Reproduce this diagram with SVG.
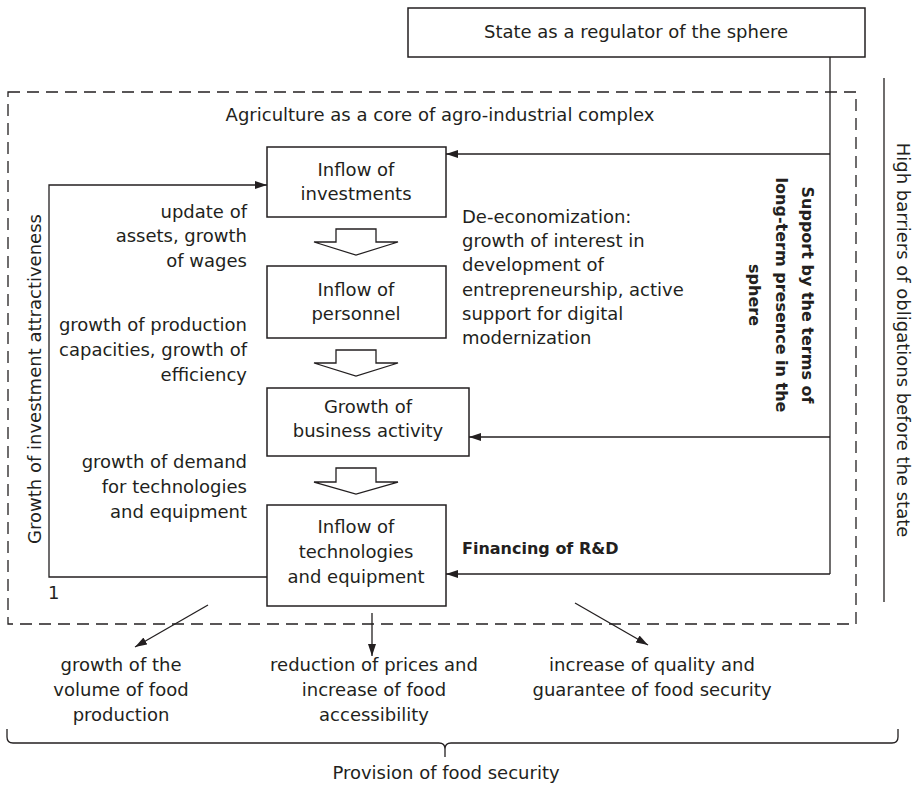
<svg xmlns="http://www.w3.org/2000/svg" width="914" height="787" viewBox="0 0 914 787">
  <style>
    text { font-family: "DejaVu Sans", "Noto Sans", sans-serif; font-size: 18px; fill: #231f20; }
    .b { font-weight: bold; font-size: 16px; }
    .m { text-anchor: middle; }
    .e { text-anchor: end; }
    .box { fill: #fff; stroke: #231f20; stroke-width: 1.5; }
    .ln { fill: none; stroke: #231f20; stroke-width: 1.3; }
    .dash { fill: none; stroke: #231f20; stroke-width: 1.3; stroke-dasharray: 12 7; }
    .hollow { fill: #fff; stroke: #231f20; stroke-width: 1.3; stroke-linejoin: miter; }
  </style>
  <defs>
    <marker id="arr" markerWidth="12" markerHeight="8" refX="12" refY="4" orient="auto" markerUnits="userSpaceOnUse">
      <path d="M0,0 L12,4 L0,8 z" fill="#231f20"/>
    </marker>
  </defs>

  <rect width="914" height="787" fill="#fff"/>

  <!-- sphere boundary -->
  <rect class="dash" x="8" y="92" width="848" height="532"/>
  <text class="m" x="440" y="121">Agriculture as a core of agro-industrial complex</text>

  <!-- outer obligation barrier -->
  <line class="ln" x1="884" y1="78" x2="884" y2="602"/>
  <text class="m" transform="translate(897,340) rotate(90)">High barriers of obligations before the state</text>

  <g id="state">
    <rect class="box" x="408" y="8" width="457" height="49"/>
    <text class="m" x="636" y="38">State as a regulator of the sphere</text>
  </g>

  <g id="investments">
    <rect class="box" x="267" y="147" width="179" height="70"/>
    <text class="m" x="356" y="176">Inflow of</text>
    <text class="m" x="356" y="200">investments</text>
  </g>

  <g id="personnel">
    <rect class="box" x="267" y="266" width="179" height="72"/>
    <text class="m" x="356" y="296">Inflow of</text>
    <text class="m" x="356" y="320">personnel</text>
  </g>

  <g id="business">
    <rect class="box" x="267" y="388" width="202" height="68"/>
    <text class="m" x="368" y="413">Growth of</text>
    <text class="m" x="368" y="437">business activity</text>
  </g>

  <g id="technologies">
    <rect class="box" x="267" y="505" width="179" height="101"/>
    <text class="m" x="356" y="533">Inflow of</text>
    <text class="m" x="356" y="558">technologies</text>
    <text class="m" x="356" y="583">and equipment</text>
  </g>

  <g id="connectors">
    <!-- hollow block arrows between stages -->
    <polygon class="hollow" points="336,229 376,229 376,242 398,242 356,255 314,242 336,242"/>
    <polygon class="hollow" points="336,350 376,350 376,363 398,363 356,376 314,363 336,363"/>
    <polygon class="hollow" points="336,468 376,468 376,482 398,482 356,494 314,482 336,482"/>

    <!-- state support line -->
    <line class="ln" x1="830" y1="57" x2="830" y2="574"/>
    <line class="ln" x1="830" y1="154" x2="446" y2="154" marker-end="url(#arr)"/>
    <line class="ln" x1="830" y1="437" x2="469" y2="437" marker-end="url(#arr)"/>
    <line class="ln" x1="830" y1="574" x2="446" y2="574" marker-end="url(#arr)"/>

    <!-- feedback loop -->
    <polyline class="ln" points="267,577 49,577 49,185 267,185" marker-end="url(#arr)"/>

    <!-- outcomes -->
    <line class="ln" x1="208" y1="605" x2="135" y2="647" marker-end="url(#arr)"/>
    <line class="ln" x1="372" y1="613" x2="372" y2="656" marker-end="url(#arr)"/>
    <line class="ln" x1="575" y1="603" x2="648" y2="645" marker-end="url(#arr)"/>

    <!-- brace -->
    <path class="ln" d="M7,729 L7,737 Q7,743 13,743 L439,743 Q445,743 445,749 L445,757 M445,749 Q445,743 451,743 L892,743 Q898,743 898,737 L898,729"/>
  </g>

  <!-- side labels -->
  <text class="m" transform="translate(41,379) rotate(-90)">Growth of investment attractiveness</text>
  <text x="48" y="599">1</text>

  <text class="e" x="247" y="218">update of</text>
  <text class="e" x="247" y="242">assets, growth</text>
  <text class="e" x="247" y="267">of wages</text>

  <text class="e" x="247" y="331">growth of production</text>
  <text class="e" x="247" y="356">capacities, growth of</text>
  <text class="e" x="247" y="381">efficiency</text>

  <text class="e" x="247" y="468">growth of demand</text>
  <text class="e" x="247" y="493">for technologies</text>
  <text class="e" x="247" y="518">and equipment</text>

  <text x="462" y="223">De-economization:</text>
  <text x="462" y="247">growth of interest in</text>
  <text x="462" y="271">development of</text>
  <text x="462" y="296">entrepreneurship, active</text>
  <text x="462" y="320">support for digital</text>
  <text x="462" y="344">modernization</text>

  <text class="b m" transform="translate(802,295) rotate(90)">Support by the terms of</text>
  <text class="b m" transform="translate(776,295) rotate(90)">long-term presence in the</text>
  <text class="b m" transform="translate(749,295) rotate(90)">sphere</text>

  <text class="b" x="462" y="554">Financing of R&amp;D</text>

  <!-- results -->
  <text class="m" x="121" y="671">growth of the</text>
  <text class="m" x="121" y="696">volume of food</text>
  <text class="m" x="121" y="721">production</text>

  <text class="m" x="374" y="671">reduction of prices and</text>
  <text class="m" x="374" y="696">increase of food</text>
  <text class="m" x="374" y="721">accessibility</text>

  <text class="m" x="652" y="671">increase of quality and</text>
  <text class="m" x="652" y="696">guarantee of food security</text>

  <text class="m" x="446" y="779">Provision of food security</text>
</svg>
